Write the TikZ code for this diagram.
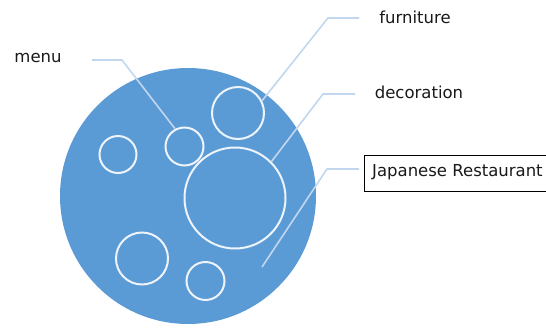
\documentclass[tikz,border=0pt]{standalone}
\usepackage{fontspec}
\setmainfont{DejaVu Sans}
\definecolor{mainblue}{RGB}{91,155,213}
\definecolor{connblue}{RGB}{194,214,238}
\definecolor{ringwhite}{RGB}{238,244,251}
\definecolor{txt}{RGB}{25,25,25}
\begin{document}
\begin{tikzpicture}[x=1pt,y=-1pt,
  lbl/.style={font=\fontsize{16.5}{19}\selectfont, text=txt, inner sep=0pt},
  bubble/.style={circle, draw=ringwhite, line width=2pt, inner sep=0pt},
  conn/.style={draw=connblue, line width=1.6pt, line join=round},
  boxline/.style={draw=black, line width=0.9pt},
]
\useasboundingbox (0,0) rectangle (546,327);

% main disc
\node[circle, fill=mainblue, minimum size=256pt, inner sep=0pt] (rest) at (188,196) {};

% inner bubbles
\node[bubble, minimum size=52pt] (furn) at (238,113) {};
\node[bubble, minimum size=38pt] (menuc) at (184.5,146.5) {};
\node[bubble, minimum size=37pt] (leftc) at (118,154.5) {};
\node[bubble, minimum size=101pt] (deco) at (235,198) {};
\node[bubble, minimum size=52pt] (blc) at (142,258.5) {};
\node[bubble, minimum size=38pt] (bsc) at (205.5,281) {};

% labels
\node[lbl] (menut) at (38,58) {menu};
\node[lbl] (furnt) at (415,17) {furniture};
\node[lbl] (decot) at (419,92) {decoration};
\node[lbl, anchor=west] (jrt) at (372,172) {Japanese Restaurant};
\draw[boxline] (546,155) -| (364,191.5) -- (546,191.5);

% connector points
\coordinate (menuS) at (92,60);
\coordinate (menuK) at (122,60);
\coordinate (furnS) at (359,18);
\coordinate (furnK) at (328,18);
\coordinate (decoS) at (355,94);
\coordinate (decoK) at (323,94);
\coordinate (jrS) at (359,169);
\coordinate (jrK) at (327,169);
\coordinate (jrE) at (262,267);

% connectors
\draw[conn] (menuS) -- (menuK) -- (menuc.118);
\draw[conn] (furnS) -- (furnK) -- (furn.27);
\draw[conn] (decoS) -- (decoK) -- (deco.45);
\draw[conn] (jrS) -- (jrK) -- (jrE);
\end{tikzpicture}
\end{document}
